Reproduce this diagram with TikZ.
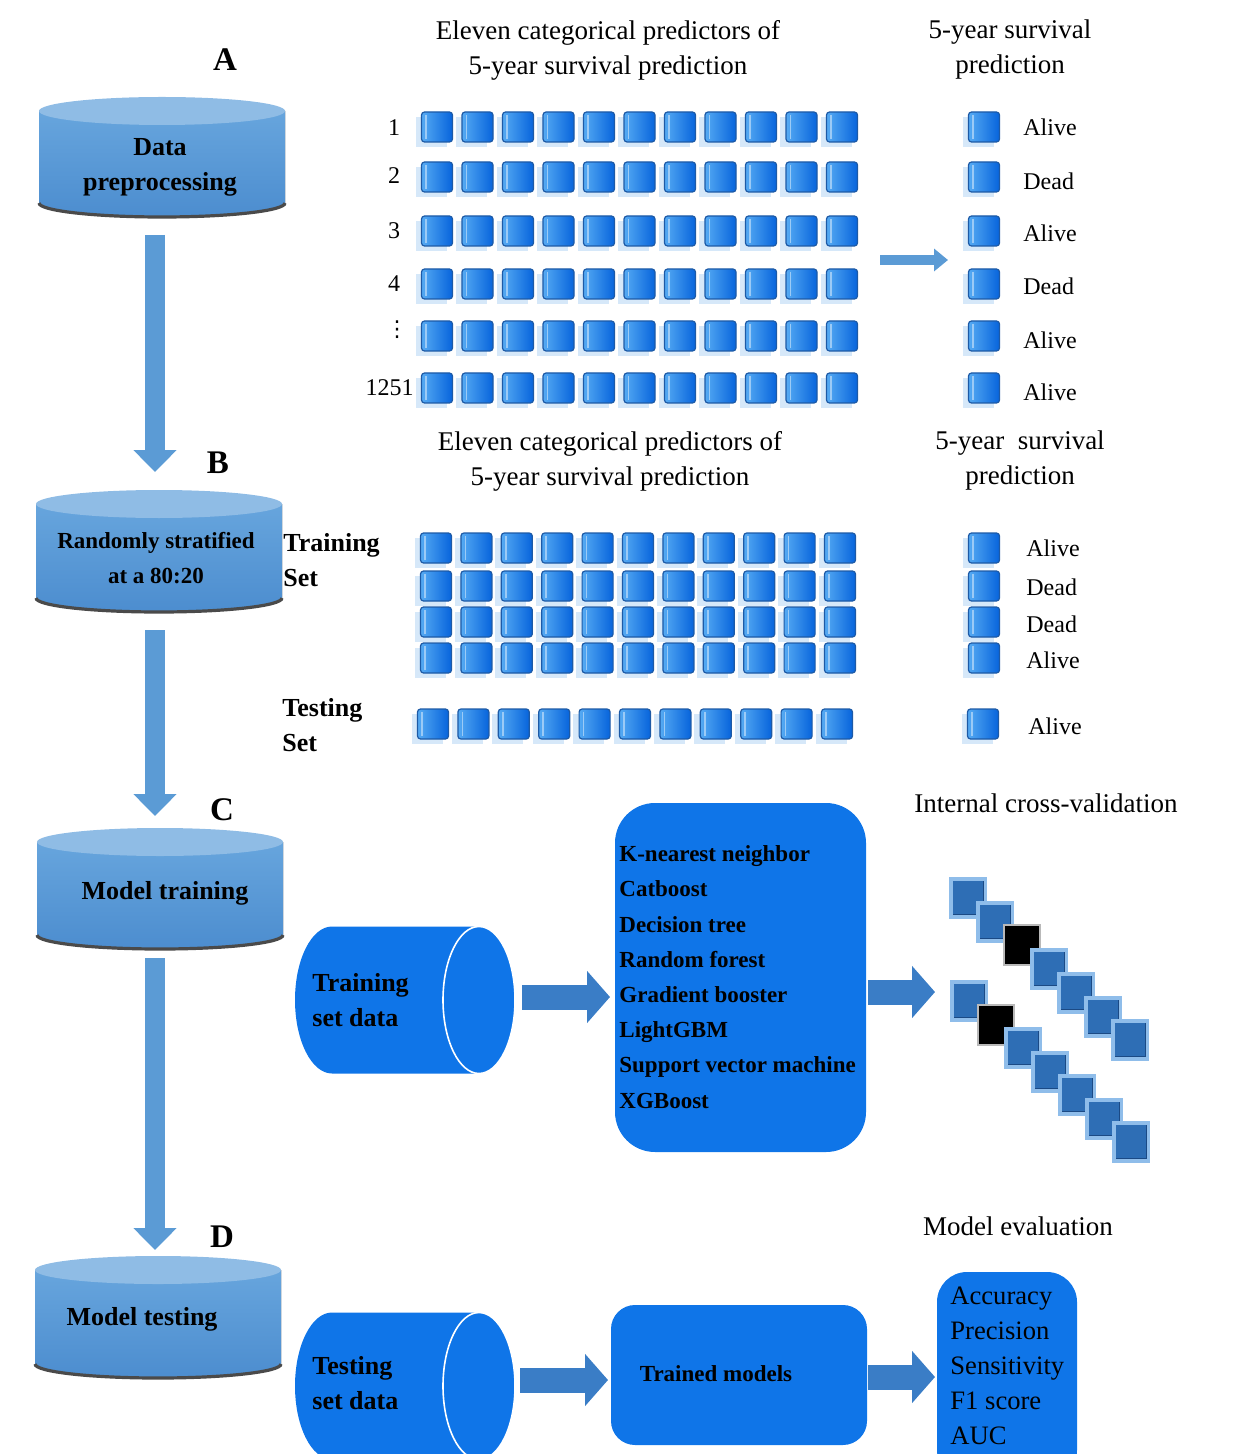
\documentclass[tikz,border=0pt]{standalone}
\usepackage{fontspec}
\setmainfont{Liberation Serif}
\newfontfamily\symfont{DejaVu Sans}
\usetikzlibrary{arrows.meta}

\definecolor{cylTop}{HTML}{67A5DD}
\definecolor{cylBot}{HTML}{4C8DCF}
\definecolor{cylFace}{HTML}{8FBCE5}
\definecolor{cylEdge}{HTML}{4A4A4A}
\definecolor{flowBlue}{HTML}{5B9BD5}
\definecolor{boxBlue}{HTML}{0F75E8}
\definecolor{arrowBlue}{HTML}{3A7DC6}
\definecolor{cellL}{HTML}{55AAF3}
\definecolor{cellR}{HTML}{0764DC}
\definecolor{cellLine}{HTML}{1D5AA6}
\definecolor{cellShadow}{HTML}{D6E8F9}
\definecolor{cvRim}{HTML}{8FBDEA}
\definecolor{cvBlue}{HTML}{2E6EB5}
\definecolor{cvDark}{HTML}{1B4A85}

\tikzset{
  txt/.style={inner sep=0pt, font=\fontsize{13.5}{17.5}\selectfont, align=center},
  outlbl/.style={inner sep=0pt, anchor=west, font=\fontsize{12}{14}\selectfont},
  steplbl/.style={inner sep=0pt, font=\fontsize{16.5}{18}\selectfont\bfseries},
  cyltxt/.style={inner sep=0pt, font=\fontsize{13}{17.5}\selectfont\bfseries, align=center},
  setlbl/.style={inner sep=0pt, anchor=west, align=left, font=\fontsize{13}{17.5}\selectfont\bfseries},
  flowdown/.style={draw=flowBlue, line width=10pt, -{Triangle[width=21pt,length=11pt]}},
  smallarrow/.style={draw=flowBlue, line width=5pt, -{Triangle[width=11pt,length=7pt]}},
  bigarrow/.style={draw=arrowBlue, line width=12.5pt, -{Triangle[width=25.5pt,length=11.5pt]}},
  bluebox/.style={fill=boxBlue, inner sep=0pt},
  gridcell/.pic={
    \fill[cellShadow] (-21.5,-20) rectangle (9.5,10);
    \shade[left color=cellL, right color=cellR, draw=cellLine, line width=0.6pt, rounded corners=1.5pt] (-15.5,-15) rectangle (15.5,15);
    \draw[white, opacity=.45, line width=0.8pt] (-11,-12) -- (-11,12);
  },
  cvblue/.pic={
    \fill[cvRim] (-19,-21) rectangle (19,21);
    \fill[cvDark] (-15,-17) rectangle (16,17);
    \fill[cvBlue] (-15,-16) rectangle (15,17);
  },
  cvblack/.pic={
    \fill[gray!55] (-19,-21) rectangle (19,21);
    \fill[black] (-17,-19) rectangle (17,19);
  }
}

% vertical cylinder: x middle, half width, top y, bottom y
\newcommand{\vcyl}[4]{%
  \fill[top color=cylTop, bottom color=cylBot] (#1-#2,#3) -- (#1-#2,#4) arc[start angle=180, end angle=360, x radius=#2, y radius=14] -- (#1+#2,#3) -- cycle;
  \draw[cylEdge, line width=1.6pt] (#1-#2,#4) arc[start angle=180, end angle=360, x radius=#2, y radius=14];
  \fill[cylFace] (#1,#3) ellipse[x radius=#2, y radius=14];
}
% horizontal cylinder: left end x, right end x, middle y
\newcommand{\hcyl}[3]{%
  \fill[boxBlue] (#1,#3+73.5) -- (#2,#3+73.5) arc[start angle=90, end angle=-90, x radius=36, y radius=73.5] -- (#1,#3-73.5) arc[start angle=270, end angle=90, x radius=37, y radius=73.5] -- cycle;
  \draw[white, line width=0.8pt] (#2,#3) ellipse[x radius=36, y radius=73.5];
}

\begin{document}
\begin{tikzpicture}[x=0.5pt, y=0.5pt]
\useasboundingbox (0,0) rectangle (1234,-1454);

% steps on the left
\vcyl{162}{123}{-111}{-203}
\vcyl{159}{123}{-504}{-598}
\vcyl{160}{123}{-842}{-935}
\vcyl{158}{123}{-1270}{-1364}
\node[cyltxt] (cylA) at (160,-167) {Data\\preprocessing};
\node[cyltxt, font=\fontsize{11.5}{17.5}\selectfont\bfseries] (cylB) at (156,-558) {Randomly stratified\\at a 80:20};
\node[cyltxt] (cylC) at (165,-893) {Model training};
\node[cyltxt] (cylD) at (142,-1319) {Model testing};
\node[steplbl] (lblA) at (225,-60) {A};
\node[steplbl] (lblB) at (218,-463) {B};
\node[steplbl] (lblC) at (222,-810) {C};
\node[steplbl] (lblD) at (222,-1237) {D};

\coordinate (ab1) at (155,-235);
\coordinate (ab2) at (155,-472);
\coordinate (bc1) at (155,-630);
\coordinate (bc2) at (155,-816);
\coordinate (cd1) at (155,-958);
\coordinate (cd2) at (155,-1250);
\draw[flowdown] (ab1) -- (ab2);
\draw[flowdown] (bc1) -- (bc2);
\draw[flowdown] (cd1) -- (cd2);

% A: the whole data set
\node[txt] (predHead) at (608,-50) {Eleven categorical predictors of\\5-year survival prediction};
\node[txt] (survHead) at (1010,-50) {5-year survival\\prediction};
\foreach \y/\n [count=\r] in {128/1,176/2,231/3,284/4} {
  \node[outlbl, anchor=center] (row\r) at (394,-\y) {\n};
}
\node[inner sep=0pt, font=\symfont\fontsize{11}{12}\selectfont] (rowDots) at (397,-330) {⋮};
\node[outlbl, anchor=east] (rowLast) at (414,-388) {1251};
\foreach \y in {127,177,231,284,336,388} {
  \foreach \c in {0,...,10}
    \pic at (437+40.5*\c,-\y) {gridcell};
  \pic at (984,-\y) {gridcell};
}
\foreach \y/\t [count=\r] in {127/Alive,181/Dead,233/Alive,286/Dead,340/Alive,392/Alive}
  \node[outlbl] (outA\r) at (1023,-\y) {\t};
\coordinate (topS) at (880,-260);
\coordinate (topE) at (948,-260);
\draw[smallarrow] (topS) -- (topE);

% B: training and testing sets
\node[txt] (predHeadB) at (610,-461) {Eleven categorical predictors of\\5-year survival prediction};
\node[txt] (survHeadB) at (1020,-461) {5-year\ \ survival\\prediction};
\node[setlbl] (trainSet) at (283,-560) {Training\\Set};
\node[setlbl] (testSet) at (282,-725) {Testing\\Set};
\foreach \y in {548,586,622,658} {
  \foreach \c in {0,...,10}
    \pic at (436+40.4*\c,-\y) {gridcell};
  \pic at (984,-\y) {gridcell};
}
\foreach \y/\t [count=\r] in {548/Alive,587/Dead,624/Dead,660/Alive}
  \node[outlbl] (outB\r) at (1026,-\y) {\t};
\foreach \c in {0,...,10}
  \pic at (433+40.4*\c,-724) {gridcell};
\pic at (983,-724) {gridcell};
\node[outlbl] (outTest) at (1028,-726) {Alive};

% C: model training
\hcyl{332}{479}{-1000}
\node[setlbl] (trainData) at (312,-1000) {Training\\set data};
\node[bluebox, rounded corners=20pt, minimum width=125.5pt, minimum height=174.5pt] (models) at (740.5,-977.5) {};
\node[inner sep=0pt, anchor=west, align=left, font=\fontsize{11.5}{17.6}\selectfont\bfseries] (modelList) at (619,-977) {K-nearest neighbor\\Catboost\\Decision tree\\Random forest\\Gradient booster\\LightGBM\\Support vector machine\\XGBoost};
\coordinate (trainOut) at (522,-997);
\coordinate (modelIn) at (610,-997);
\draw[bigarrow] (trainOut) -- (modelIn);
\coordinate (modelOut) at (868,-992);
\coordinate (cvIn) at (935,-992);
\draw[bigarrow] (modelOut) -- (cvIn);
\node[txt] (cvHead) at (1046,-803) {Internal cross-validation};
\foreach \k in {0,...,6} {
  \ifnum\k=2 \pic at (968+27*\k,-898-23.7*\k) {cvblack};
  \else \pic at (968+27*\k,-898-23.7*\k) {cvblue}; \fi
}
\foreach \k in {0,...,6} {
  \ifnum\k=1 \pic at (969+27*\k,-1001-23.5*\k) {cvblack};
  \else \pic at (969+27*\k,-1001-23.5*\k) {cvblue}; \fi
}

% D: model testing
\hcyl{332}{479}{-1386}
\node[setlbl] (testData) at (312,-1383) {Testing\\set data};
\node[bluebox, rounded corners=12pt, minimum width=128pt, minimum height=70pt] (trained) at (739,-1375) {};
\node[inner sep=0pt, font=\fontsize{11.5}{14}\selectfont\bfseries] (trainedTxt) at (716,-1374) {Trained models};
\node[bluebox, rounded corners=15pt, minimum width=70pt, minimum height=104pt] (evalBox) at (1007,-1376) {};
\node[inner sep=0pt, anchor=west, align=left, font=\fontsize{13.3}{17.5}\selectfont] (evalList) at (950,-1366) {Accuracy\\Precision\\Sensitivity\\F1 score\\AUC};
\node[txt] (evalHead) at (1018,-1226) {Model evaluation};
\coordinate (testOut) at (520,-1380);
\coordinate (trainedIn) at (608,-1380);
\draw[bigarrow] (testOut) -- (trainedIn);
\coordinate (trainedOut) at (868,-1377);
\coordinate (evalIn) at (935,-1377);
\draw[bigarrow] (trainedOut) -- (evalIn);
\end{tikzpicture}
\end{document}
